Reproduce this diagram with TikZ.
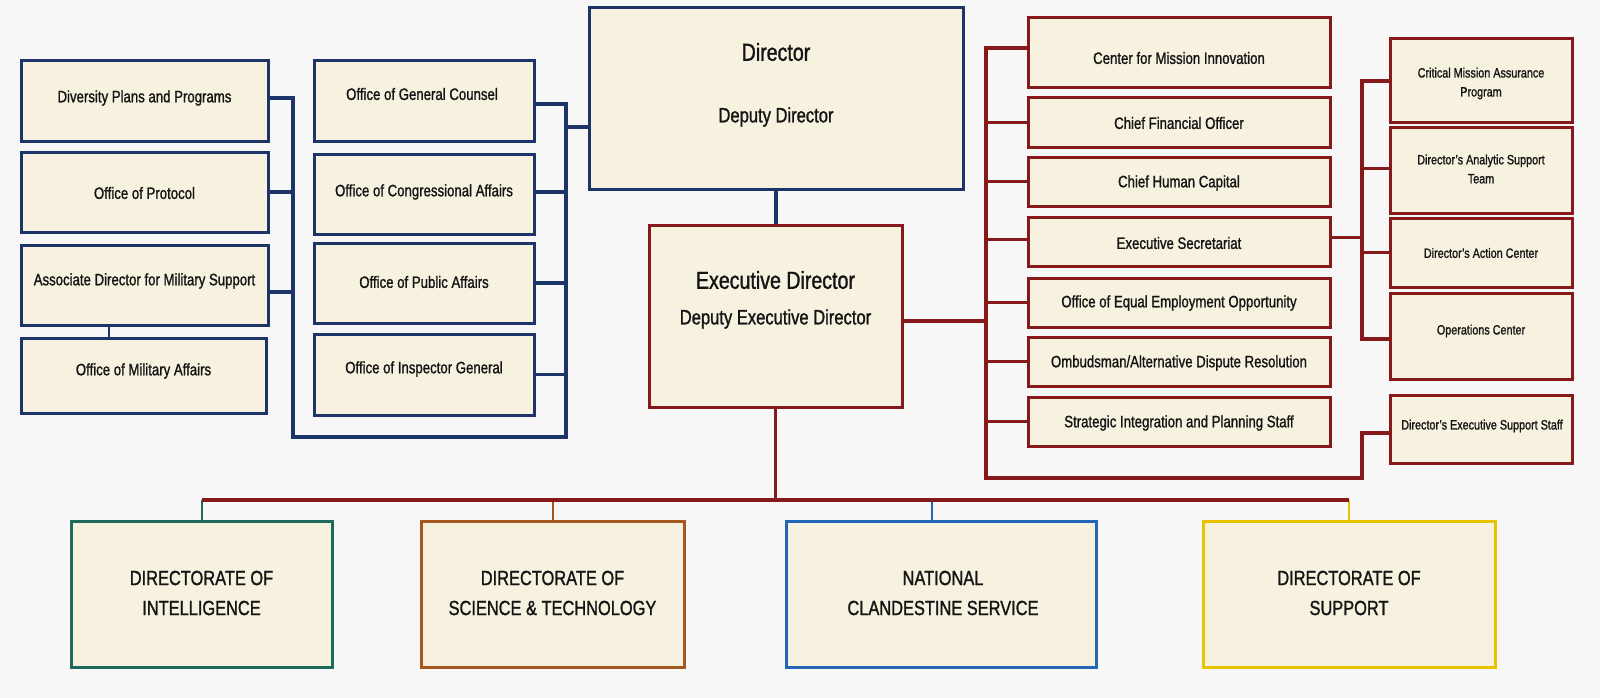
\documentclass[tikz,border=0pt]{standalone}
\usepackage{fontspec}
\setmainfont{Liberation Sans}[FakeStretch=0.8, FakeBold=1.2]
\usetikzlibrary{fit,calc}
\definecolor{bgc}{HTML}{F7F7F7}
\definecolor{cream}{HTML}{F7F2DF}
\definecolor{navy}{HTML}{1C3468}
\definecolor{dred}{HTML}{861A1A}
\definecolor{cteal}{HTML}{1E6B5C}
\definecolor{corange}{HTML}{A4571E}
\definecolor{cblue}{HTML}{2366B5}
\definecolor{cyel}{HTML}{E8C300}
\definecolor{txt}{HTML}{141414}
\tikzset{
  box/.style={draw, fill=cream, line width=3pt, inner sep=0pt},
  bbox/.style={box, draw=navy},
  rbox/.style={box, draw=dred},
  tx/.style={text=txt, align=center, inner sep=0pt},
  fa/.style={tx, font=\fontsize{16.5}{20}\selectfont},
  fs/.style={tx, font=\fontsize{13.5}{19}\selectfont},
  fbig/.style={tx, font=\fontsize{24.5}{28}\selectfont},
  fmid/.style={tx, font=\fontsize{20.7}{26}\selectfont},
  fbot/.style={tx, font=\fontsize{20.5}{30}\selectfont},
  bl/.style={navy, line width=3.8pt},
  rl/.style={dred, line width=3.8pt},
  drop/.style={line width=2pt},
}
\begin{document}
\begin{tikzpicture}[x=1pt,y=-1pt]
\fill[bgc] (0,0) rectangle (1600,698);
\useasboundingbox (0,0) rectangle (1600,698);

% ---------- left column
\node[bbox, fit={(21,61) (268,141)}] (div) {};
\node[fa] (divt) at (144.5,98) {Diversity Plans and Programs};
\node[bbox, fit={(21,152) (268,232)}] (prot) {};
\node[fa] (prott) at (144.5,193) {Office of Protocol};
\node[bbox, fit={(21,245) (268,325)}] (asd) {};
\node[fa] (asdt) at (144.5,281) {Associate Director for Military Support};
\node[bbox, fit={(21,338) (266,413)}] (mil) {};
\node[fa] (milt) at (143.5,371) {Office of Military Affairs};

% ---------- middle column
\node[bbox, fit={(314,61) (534,141)}] (ogc) {};
\node[fa] (ogct) at (422,94) {Office of General Counsel};
\node[bbox, fit={(314,154) (534,234)}] (oca) {};
\node[fa] (ocat) at (424,192) {Office of Congressional Affairs};
\node[bbox, fit={(314,243) (534,323)}] (opa) {};
\node[fa] (opat) at (424,282) {Office of Public Affairs};
\node[bbox, fit={(314,334) (534,415)}] (oig) {};
\node[fa] (oigt) at (424,369) {Office of Inspector General};

% ---------- director / executive director
\node[bbox, fit={(589,8) (963,189)}] (dir) {};
\node[fbig] (dirt) at (776,52) {Director};
\node[fmid] (ddirt) at (776,117) {Deputy Director};
\node[rbox, fit={(649,225) (902,407)}] (exec) {};
\node[fbig] (exect) at (775.5,280) {Executive Director};
\node[fmid] (dexect) at (775.5,319) {Deputy Executive Director};

% ---------- right column 1
\node[rbox, fit={(1028,18) (1330,88)}] (cmi) {};
\node[fa] (cmit) at (1179,58) {Center for Mission Innovation};
\node[rbox, fit={(1028,98) (1330,147)}] (cfo) {};
\node[fa] (cfot) at (1179,123) {Chief Financial Officer};
\node[rbox, fit={(1028,157) (1330,206)}] (chc) {};
\node[fa] (chct) at (1179,183) {Chief Human Capital};
\node[rbox, fit={(1028,217) (1330,266)}] (exs) {};
\node[fa] (exst) at (1179,243) {Executive Secretariat};
\node[rbox, fit={(1028,278) (1330,327)}] (eeo) {};
\node[fa] (eeot) at (1179,303) {Office of Equal Employment Opportunity};
\node[rbox, fit={(1028,337) (1330,386)}] (omb) {};
\node[fa] (ombt) at (1179,363) {Ombudsman/Alternative Dispute Resolution};
\node[rbox, fit={(1028,397) (1330,446)}] (sip) {};
\node[fa] (sipt) at (1179,423) {Strategic Integration and Planning Staff};

% ---------- right column 2
\node[rbox, fit={(1390,39) (1572,123)}] (cmap) {};
\node[fs] (cmapt) at (1481,83.5) {Critical Mission Assurance\\Program};
\node[rbox, fit={(1390,128) (1572,213)}] (dast) {};
\node[fs] (dastt) at (1481,169) {Director's Analytic Support\\Team};
\node[rbox, fit={(1390,218) (1572,287)}] (dac) {};
\node[fs] (dact) at (1481,253) {Director's Action Center};
\node[rbox, fit={(1390,293) (1572,379)}] (ops) {};
\node[fs] (opst) at (1481,331) {Operations Center};
\node[rbox, fit={(1390,395) (1572,463)}] (dess) {};
\node[fs] (desst) at (1482,426) {Director's Executive Support Staff};

% ---------- bottom directorates
\node[box, draw=cteal, fit={(71,521) (332,667)}] (di) {};
\node[fbot] (dit) at (201.5,593) {DIRECTORATE OF\\INTELLIGENCE};
\node[box, draw=corange, fit={(421,521) (684,667)}] (dst) {};
\node[fbot] (dstt) at (552.5,593) {DIRECTORATE OF\\SCIENCE \& TECHNOLOGY};
\node[box, draw=cblue, fit={(786,521) (1096,667)}] (ncs) {};
\node[fbot] (ncst) at (943,593) {NATIONAL\\CLANDESTINE SERVICE};
\node[box, draw=cyel, fit={(1203,521) (1495,667)}] (ds) {};
\node[fbot] (dst2) at (1349,593) {DIRECTORATE OF\\SUPPORT};

% ---------- blue connectors
\coordinate (L1) at (293,437);
\coordinate (L2) at (566,437);
\coordinate (lk) at (109,0);
\draw[bl] ([yshift=3pt]div.east) -| (L1) -- (L2) |- ([yshift=-3pt]ogc.east);
\draw[bl] (prot.east) -| (L1);
\draw[bl] ([yshift=-7pt]asd.east) -| (L1);
\draw[bl] ([yshift=2pt]oca.east) -| (L2);
\draw[bl] (opa.east) -| (L2);
\draw[bl] (oig.east) -| (L2);
\draw[bl] ([yshift=-28.5pt]dir.west) -| (L2);
\draw[bl, line width=2.5pt] (asd.south -| lk) -- (mil.north -| lk);
\draw[bl] (dir.south) -- (dir.south |- exec.north);

% ---------- red connectors
\coordinate (R1) at (986,478);
\coordinate (R2) at (1362,478);
\coordinate (SB) at (1362,339);
\draw[rl] ([yshift=5pt]cmi.west) -| (R1) -- (R2) |- ([yshift=-4pt]dess.west);
\draw[rl] (cfo.west) -| (R1);
\draw[rl] (chc.west) -| (R1);
\draw[rl] ([yshift=2pt]exs.west) -| (R1);
\draw[rl] (eeo.west) -| (R1);
\draw[rl] (omb.west) -| (R1);
\draw[rl] (sip.west) -| (R1);
\draw[rl] ([yshift=-5pt]exec.east) -| (R1);
\draw[rl] (cmap.west) -| (SB) -- (SB -| ops.west);
\draw[rl] ([yshift=2pt]dast.west) -| (SB);
\draw[rl] (dac.west) -| (SB);
\draw[rl] ([yshift=4pt]exs.east) -| (SB);

% ---------- bottom tree
\coordinate (BL) at (201,500);
\coordinate (nd) at ([xshift=-9pt]ncs.north);
\draw[cteal, drop] (di.north) -- (di.north |- BL);
\draw[corange, drop] (dst.north) -- (dst.north |- BL);
\draw[cblue, drop] (nd) -- (nd |- BL);
\draw[cyel, drop] (ds.north) -- (ds.north |- BL);
\draw[rl, line width=4.8pt] (di.north |- BL) -- (ds.north |- BL);
\draw[rl] (exec.south) -- (exec.south |- BL);
\end{tikzpicture}
\end{document}
